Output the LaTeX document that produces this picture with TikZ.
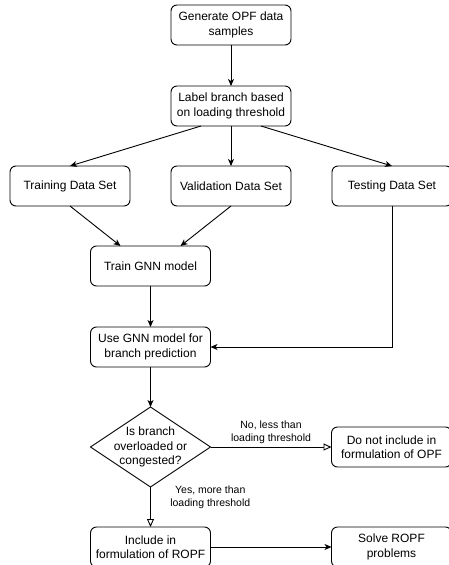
\documentclass[tikz,border=0pt]{standalone}
\usepackage{fontspec}
\setmainfont{Liberation Sans}
\usetikzlibrary{positioning, arrows.meta, shapes.geometric, calc}

\begin{document}
\begin{tikzpicture}[
    x=1pt, y=1pt,
    node distance=40pt and 41pt,
    txt/.style={font=\fontsize{12}{14.5}\selectfont},
    box/.style={rectangle, draw, line width=0.9pt, rounded corners=6pt, minimum width=120pt, minimum height=40pt, align=center, inner sep=2pt, outer sep=0pt, txt},
    decision/.style={diamond, draw, line width=0.9pt, minimum width=120pt, minimum height=80pt, inner sep=0pt, outer sep=0pt},
    arrow/.style={-{Stealth[length=7pt, width=6pt, inset=2pt]}, line width=0.9pt},
    openarrow/.style={-{Triangle[open, length=8pt, width=7pt, fill=white]}, line width=0.9pt},
    note/.style={font=\fontsize{10.5}{13}\selectfont, align=center}
]

\useasboundingbox (0,0) rectangle (448,-565);

% Data preparation
\node[box] (gen) at (231,-25) {Generate OPF data\\samples};
\node[box, below=41pt of gen] (lbl) {Label branch based\\on loading threshold};

% Data sets
\node[box, below=of lbl] (valid) {Validation Data Set};
\node[box, left=of valid] (training) {Training Data Set};
\node[box, right=of valid] (testing) {Testing Data Set};

% GNN model
\coordinate (mid) at ($(training.south)!0.5!(valid.south)$);
\node[box, below=of mid] (gnn) {Train GNN model};
\node[box, below=41pt of gnn] (predict) {Use GNN model for\\branch prediction};

% Decision
\node[decision, below=of predict] (check) {};
\node[txt, align=center] (checktext) at (check) {Is branch\\overloaded or\\congested?};

% Outcomes
\node[box, below=of check] (incl) {Include in\\formulation of ROPF};
\node[box, right=121pt of check] (excl) {Do not include in\\formulation of OPF};
\node[box, right=121pt of incl] (solve) {Solve ROPF\\problems};

% Connections
\draw[arrow] (gen) -- (lbl);
\draw[arrow] ($(lbl.south west)!0.25!(lbl.south east)$) -- (training.north);
\draw[arrow] (lbl) -- (valid);
\draw[arrow] ($(lbl.south west)!0.75!(lbl.south east)$) -- (testing.north);
\draw[arrow] (training.south) -- ($(gnn.north west)!0.25!(gnn.north east)$);
\draw[arrow] (valid.south) -- ($(gnn.north west)!0.75!(gnn.north east)$);
\draw[arrow] (gnn) -- (predict);
\draw[arrow] (testing.south) |- (predict.east);
\draw[arrow] (predict) -- (check);
\draw[openarrow] (check) -- (excl) node[note, midway, above] {No, less than\\loading threshold};
\draw[openarrow] (check) -- (incl) node[note, midway, right, xshift=16pt, yshift=10pt] {Yes, more than\\loading threshold};
\draw[arrow] (incl) -- (solve);

\end{tikzpicture}
\end{document}
